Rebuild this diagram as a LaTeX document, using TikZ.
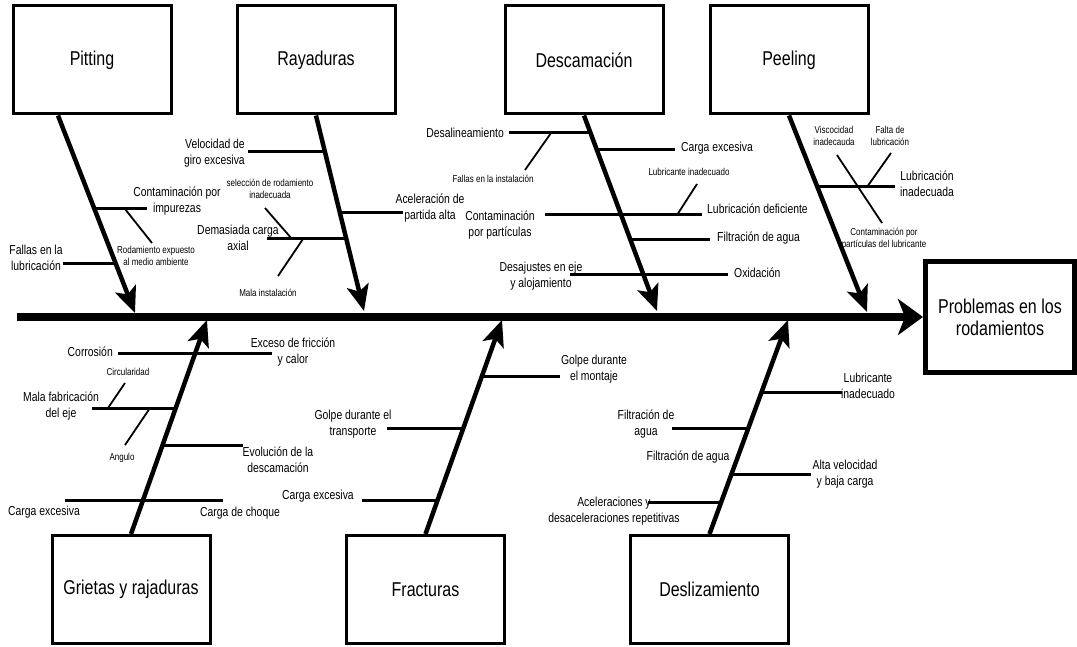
\documentclass[tikz,border=0pt]{standalone}
\usepackage{fontspec}
\setmainfont{Liberation Sans}[FakeStretch=0.8]
\usetikzlibrary{arrows.meta}

\begin{document}
\begin{tikzpicture}[
  x=1pt, y=-1pt,
  font=\fontsize{13}{16}\selectfont,
  causebox/.style={rectangle, draw, line width=3pt, align=center, inner sep=0pt,
    minimum width=158pt, minimum height=108pt, font=\fontsize{20}{22}\selectfont},
  effectbox/.style={causebox, line width=5pt, minimum width=149pt, minimum height=110pt},
  lbl/.style={inner sep=0pt, align=center},
  lblsmall/.style={lbl, font=\fontsize{10}{12}\selectfont},
  spine/.style={line width=7pt, -{Stealth[length=25pt,width=36pt,inset=7pt]}},
  bone/.style={line width=4.5pt, -{Stealth[length=26pt,width=22pt,inset=6pt]}},
  twig/.style={line width=3pt},
  subtwig/.style={line width=1.8pt}
]
  \useasboundingbox (0,0) rectangle (1077,647);

  % Cajas de causas y efecto.
  \node[causebox] (pitting) at (92,60) {Pitting};
  \node[causebox] (rayaduras) at (316,60) {Rayaduras};
  \node[causebox] (descamacion) at (584,60) {Descamación};
  \node[causebox] (peeling) at (789,60) {Peeling};
  \node[causebox] (grietas) at (131,589.5) {Grietas y rajaduras};
  \node[causebox] (fracturas) at (425.5,589.5) {Fracturas};
  \node[causebox] (deslizamiento) at (709.5,589.5) {Deslizamiento};
  \node[effectbox] (problema) at (1000,317) {Problemas en los\\rodamientos};

  % Espina central y espinas principales.
  \coordinate (tail) at (17,317);
  \coordinate (pitS) at ([xshift=-34pt]pitting.south);
  \coordinate (pitT) at (135,313);
  \coordinate (rayT) at (364,311);
  \coordinate (desT) at (657,311);
  \coordinate (peeT) at (867,312);
  \coordinate (griT) at (207,320);
  \coordinate (fraT) at (502,320);
  \coordinate (dslT) at (788,320);
  \draw[spine] (tail) -- (problema.west);
  \draw[bone] (pitS) -- (pitT);
  \draw[bone] (rayaduras.south) -- (rayT);
  \draw[bone] (descamacion.south) -- (desT);
  \draw[bone] (peeling.south) -- (peeT);
  \draw[bone] (grietas.north) -- (griT);
  \draw[bone] (fracturas.north) -- (fraT);
  \draw[bone] (deslizamiento.north) -- (dslT);

  % Pitting.
  \node[lbl] (contimp) at (177,201) {Contaminación por\\impurezas};
  \node[lblsmall] (rodexp) at (156,256) {Rodamiento expuesto\\al medio ambiente};
  \node[lbl] (fallub) at (36,258) {Fallas en la\\lubricación};
  \coordinate (pitA) at (95,209);  \coordinate (pitAe) at (147,209);
  \coordinate (pitAs) at (125,209); \coordinate (pitAf) at (152,243);
  \coordinate (pitB) at (116,264); \coordinate (pitBe) at (63,264);
  \draw[twig] (pitA) -- (pitAe);
  \draw[subtwig] (pitAs) -- (pitAf);
  \draw[twig] (pitB) -- (pitBe);

  % Rayaduras.
  \node[lbl, align=right, anchor=east] (velgiro) at (245,153) {Velocidad de\\giro excesiva};
  \node[lbl] (acelpart) at (430,208) {Aceleración de\\partida alta};
  \node[lbl] (demcarga) at (238,238) {Demasiada carga\\axial};
  \node[lblsmall] (selrod) at (270,189) {selección de rodamiento\\inadecuada};
  \node[lblsmall] (malinst) at (268,293) {Mala instalación};
  \coordinate (rayA) at (324.5,152); \coordinate (rayAe) at (248,152);
  \coordinate (rayB) at (339.6,213); \coordinate (rayBe) at (403,213);
  \coordinate (rayC) at (346,239);   \coordinate (rayCe) at (267,239);
  \coordinate (rayCs) at (292,239);  \coordinate (rayCf) at (265,208);
  \coordinate (rayCt) at (303,239);  \coordinate (rayCg) at (278,276);
  \draw[twig] (rayA) -- (rayAe);
  \draw[twig] (rayB) -- (rayBe);
  \draw[twig] (rayC) -- (rayCe);
  \draw[subtwig] (rayCs) -- (rayCf);
  \draw[subtwig] (rayCt) -- (rayCg);

  % Descamación.
  \node[lbl, anchor=east] (desal) at (504,133) {Desalineamiento};
  \node[lblsmall] (falinst) at (493,179) {Fallas en la instalación};
  \node[lbl, anchor=west] (cargdes) at (681,148) {Carga excesiva};
  \node[lbl] (contpart) at (500,225) {Contaminación\\por partículas};
  \node[lbl, anchor=west] (lubdef) at (707,209) {Lubricación deficiente};
  \node[lblsmall] (lubinad) at (689,172) {Lubricante inadecuado};
  \node[lbl, anchor=west] (filtdes) at (717,238) {Filtración de agua};
  \node[lbl] (desaj) at (541,276) {Desajustes en eje\\y alojamiento};
  \node[lbl, anchor=west] (oxid) at (734,273) {Oxidación};
  \coordinate (desA) at (590,133);   \coordinate (desAe) at (509,133);
  \coordinate (desAs) at (551,133);  \coordinate (desAf) at (525,170);
  \coordinate (desB) at (596.5,150); \coordinate (desBe) at (675,150);
  \coordinate (desC) at (621,215);   \coordinate (desCe) at (545,215);
  \coordinate (desCw) at (702,215);
  \coordinate (desCs) at (677,215);  \coordinate (desCf) at (697,184);
  \coordinate (desD) at (630,240);   \coordinate (desDe) at (710,240);
  \coordinate (desE) at (643.5,275); \coordinate (desEe) at (570,275);
  \coordinate (desEw) at (728,275);
  \draw[twig] (desA) -- (desAe);
  \draw[subtwig] (desAs) -- (desAf);
  \draw[twig] (desB) -- (desBe);
  \draw[twig] (desCe) -- (desC) -- (desCw);
  \draw[subtwig] (desCs) -- (desCf);
  \draw[twig] (desD) -- (desDe);
  \draw[twig] (desEe) -- (desE) -- (desEw);

  % Peeling.
  \node[lbl] (lubinpe) at (927,184) {Lubricación\\inadecuada};
  \node[lblsmall] (viscin) at (834,136) {Viscocidad\\inadecauda};
  \node[lblsmall] (faltlub) at (890,136) {Falta de\\lubricación};
  \node[lblsmall] (contlub) at (884,239) {Contaminación por\\partículas del lubricante};
  \coordinate (peeA) at (817,187);  \coordinate (peeAe) at (895,187);
  \coordinate (peeAf) at (837,155); \coordinate (peeAg) at (882,223);
  \coordinate (peeAs) at (867,187); \coordinate (peeAh) at (891,153);
  \draw[twig] (peeA) -- (peeAe);
  \draw[subtwig] (peeAf) -- (peeAg);
  \draw[subtwig] (peeAs) -- (peeAh);

  % Grietas y rajaduras.
  \node[lbl, anchor=east] (corros) at (113,352) {Corrosión};
  \node[lbl] (excfric) at (293,352) {Exceso de fricción\\y calor};
  \node[lbl] (malfab) at (61,406) {Mala fabricación\\del eje};
  \node[lblsmall] (circul) at (128,372) {Circularidad};
  \node[lblsmall] (angulo) at (122,458) {Angulo};
  \node[lbl] (evodes) at (278,460) {Evolución de la\\descamación};
  \node[lbl] (carggri) at (44,512) {Carga excesiva};
  \node[lbl] (cargchq) at (240,513) {Carga de choque};
  \coordinate (griA) at (195.2,353); \coordinate (griAe) at (118,353);
  \coordinate (griAw) at (272,353);
  \coordinate (griB) at (175.5,408); \coordinate (griBe) at (92,408);
  \coordinate (griBs) at (108,408);  \coordinate (griBf) at (125,383);
  \coordinate (griBt) at (150,408);  \coordinate (griBg) at (125,445);
  \coordinate (griC) at (162.2,445); \coordinate (griCe) at (243,445);
  \coordinate (griD) at (142.5,500); \coordinate (griDe) at (65,500);
  \coordinate (griDw) at (223,500);
  \draw[twig] (griAe) -- (griA) -- (griAw);
  \draw[twig] (griB) -- (griBe);
  \draw[subtwig] (griBs) -- (griBf);
  \draw[subtwig] (griBt) -- (griBg);
  \draw[twig] (griC) -- (griCe);
  \draw[twig] (griDe) -- (griD) -- (griDw);

  % Fracturas.
  \node[lbl] (golmon) at (594,369) {Golpe durante\\el montaje};
  \node[lbl] (goltra) at (353,424) {Golpe durante el\\transporte};
  \node[lbl, anchor=east] (cargfra) at (354,496) {Carga excesiva};
  \coordinate (fraA) at (481.9,376); \coordinate (fraAe) at (560,376);
  \coordinate (fraB) at (463.3,428); \coordinate (fraBe) at (387,428);
  \coordinate (fraC) at (437.5,500); \coordinate (fraCe) at (362,500);
  \draw[twig] (fraA) -- (fraAe);
  \draw[twig] (fraB) -- (fraBe);
  \draw[twig] (fraC) -- (fraCe);

  % Deslizamiento.
  \node[lbl] (lubdsl) at (868,386) {Lubricante\\inadecuado};
  \node[lbl] (filagua) at (646,424) {Filtración de\\agua};
  \node[lbl] (filagub) at (688,457) {Filtración de agua};
  \node[lbl] (altvel) at (845,474) {Alta velocidad\\y baja carga};
  \node[lbl] (acelrep) at (614,511) {Aceleraciones y\\desaceleraciones repetitivas};
  \coordinate (dslA) at (761.9,392); \coordinate (dslAe) at (842,392);
  \coordinate (dslB) at (748.8,428); \coordinate (dslBe) at (672,428);
  \coordinate (dslC) at (732.1,474); \coordinate (dslCe) at (811,474);
  \coordinate (dslD) at (722,502);   \coordinate (dslDe) at (648,502);
  \draw[twig] (dslA) -- (dslAe);
  \draw[twig] (dslB) -- (dslBe);
  \draw[twig] (dslC) -- (dslCe);
  \draw[twig] (dslD) -- (dslDe);
\end{tikzpicture}
\end{document}
